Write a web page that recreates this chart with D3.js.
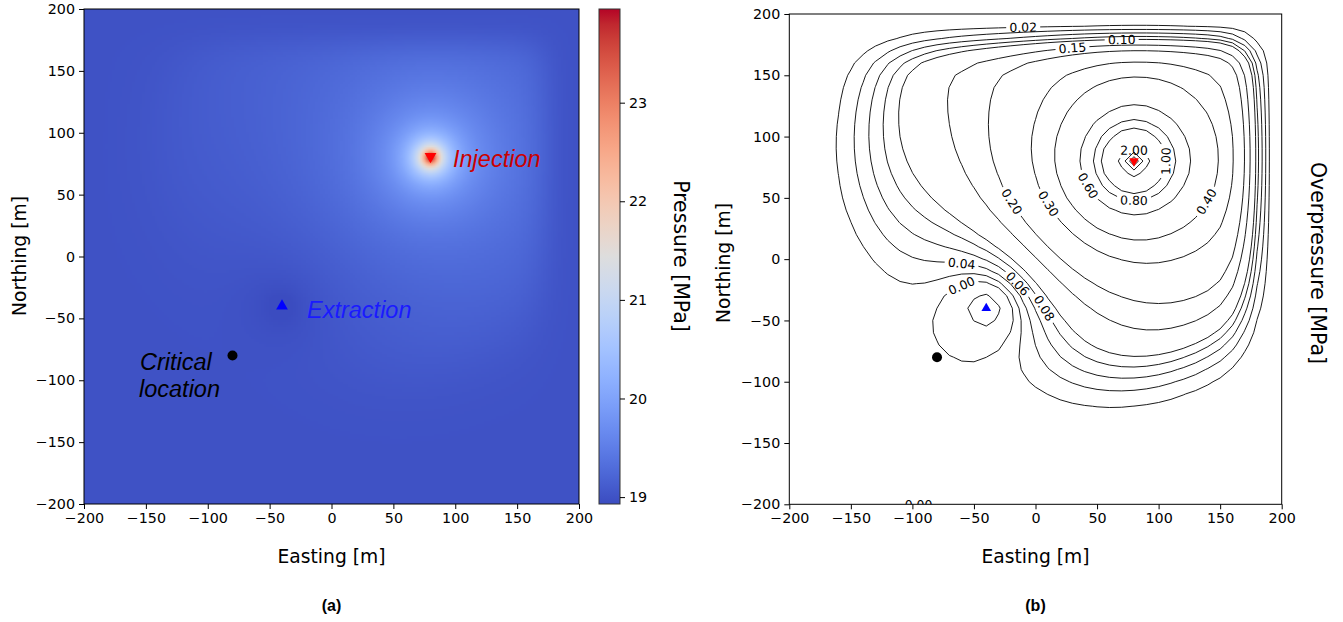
<!DOCTYPE html>
<html>
<head>
<meta charset="utf-8">
<script src="https://cdn.jsdelivr.net/npm/d3@7"></script>
<style>
  body { margin: 0; background: #fff; }
  text { fill: #000; }
</style>
</head>
<body>
<svg id="fig" width="1343" height="622"></svg>
<script>
// ---- data ----
var wellNames = ["Injection", "Extraction", "Critical location"];
var wellX = [80, -40, -80];
var wellY = [80, -40, -80];
var wellPointStrength = [24, 0, 0];        // 1/r part [MPa*m]
var wellLogStrength = [0.05, -0.075, 0];   // log part [MPa]
var wellLogReach = [350, 290, 0];          // radius where the log part vanishes [m]
var wellRadius = 5;                        // [m]
var frontX = 39, frontY = 80;              // centre of the pressure front [m]
var frontRadius = 184, frontWidth = 35;    // [m]
var basePressure = 19.0;                   // [MPa]
var wallDecay = [20, 35, 20, 35];          // fade length at left, right, bottom, top wall [m]
var pressureRange = [18.93, 23.95];
var pressureTicks = [19, 20, 21, 22, 23];
var axisTicks = [-200, -150, -100, -50, 0, 50, 100, 150, 200];
var contourLevels = [-0.05, 0, 0.02, 0.04, 0.06, 0.08, 0.10, 0.15, 0.20, 0.30, 0.40, 0.60, 0.80, 1.00, 2.00, 3.00, 4.00];
var labelLevel = [0.02, 0.10, 0.15, 0.20, 0.30, 0.40, 0.60, 0.80, 1.00, 2.00, 0.04, 0.06, 0.08, 0.00];
var labelX     = [-13, 73, 25, -23, 14, 128, 50, 79, 115, 82, -56, -7, 17, -59];
var labelY     = [196, 180, 175, 43, 48, 52, 65, 48, 74, 97, -3, -17, -31, -31];

// matplotlib coolwarm
var coolwarm = ["#3b4cc0","#445acc","#4d68d7","#5775e1","#6282ea","#6c8ef1","#779af7","#82a5fb",
  "#8db0fe","#98b9ff","#a3c2ff","#aec9fd","#b8d0f9","#c2d5f4","#ccd9ee","#d5dbe6","#dddddd",
  "#e5d8d1","#ecd3c5","#f1ccb9","#f5c4ad","#f7bba0","#f7b194","#f7a687","#f49a7b","#f18d6f",
  "#ec7f63","#e57058","#de604d","#d55042","#cb3e38","#c0282f","#b40426"];

var svg = d3.select("#fig");
var defs = svg.append("defs");
var mainFont = "'DejaVu Sans', sans-serif";
var noteFont = "'Liberation Sans', Arial, sans-serif";

// ---- field model ----
function erfc(x) {
  var z = Math.abs(x), t = 1 / (1 + 0.3275911 * z);
  var y = t * (0.254829592 + t * (-0.284496736 + t * (1.421413741 + t * (-1.453152027 + t * 1.061405429)))) * Math.exp(-z * z);
  return x >= 0 ? y : 2 - y;
}
function taper(x, y) {
  var d = [x + 200, 200 - x, y + 200, 200 - y], t = 1;
  for (var k = 0; k < 4; k++) t *= Math.tanh(Math.pow(Math.max(d[k], 0) / wallDecay[k], 2));
  return t;
}
function overpressure(x, y) {
  var s = 0;
  for (var w = 0; w < wellX.length; w++) {
    var dx = x - wellX[w], dy = y - wellY[w];
    var r = Math.sqrt(dx * dx + dy * dy + wellRadius * wellRadius);
    if (wellPointStrength[w]) s += wellPointStrength[w] / r;
    if (wellLogStrength[w]) s += wellLogStrength[w] * Math.max(0, Math.log(wellLogReach[w] / r));
  }
  var rf = Math.hypot(x - frontX, y - frontY);
  return s * 0.5 * erfc((rf - frontRadius) / frontWidth) * taper(x, y);
}

var color = d3.scaleLinear()
  .domain(coolwarm.map(function (c, i) { return pressureRange[0] + i * (pressureRange[1] - pressureRange[0]) / (coolwarm.length - 1); }))
  .range(coolwarm)
  .interpolate(d3.interpolateRgb)
  .clamp(true);

var fmt = function (d) { return d < 0 ? "\u2212" + (-d) : d; };

function drawAxes(g, x, y, box) {
  g.append("g")
    .attr("transform", "translate(0," + (box.top + box.h) + ")")
    .call(d3.axisBottom(x).tickValues(axisTicks).tickSize(5).tickPadding(4).tickFormat(fmt));
  g.append("g")
    .attr("transform", "translate(" + box.left + ",0)")
    .call(d3.axisLeft(y).tickValues(axisTicks).tickSize(5).tickPadding(4).tickFormat(fmt));
  g.selectAll(".domain").remove();
  g.selectAll(".tick line").attr("stroke", "#000").attr("stroke-width", 1);
  g.selectAll(".tick text").style("font-family", mainFont).style("font-size", "14.3px").attr("fill", "#000");
  g.append("rect")
    .attr("x", box.left).attr("y", box.top).attr("width", box.w).attr("height", box.h)
    .attr("fill", "none").attr("stroke", "#000").attr("stroke-width", 1);
}

function label(x, y, txt, rot, size, family, weight) {
  svg.append("text")
    .attr("transform", "translate(" + x + "," + y + ")" + (rot ? " rotate(" + rot + ")" : ""))
    .attr("text-anchor", "middle").attr("dominant-baseline", "central")
    .style("font-family", family || mainFont).style("font-size", size + "px")
    .style("font-weight", weight || "normal")
    .text(txt);
}

// ================= panel (a) =================
var A = {left: 84, top: 9, size: 495};
var xa = d3.scaleLinear().domain([-200, 200]).range([A.left, A.left + A.size]);
var ya = d3.scaleLinear().domain([-200, 200]).range([A.top + A.size, A.top]);

var N = 200;
var canvas = document.createElement("canvas");
canvas.width = N; canvas.height = N;
var ctx = canvas.getContext("2d");
var img = ctx.createImageData(N, N);
for (var r = 0; r < N; r++) {
  for (var c = 0; c < N; c++) {
    var px = -200 + (c + 0.5) * 400 / N, py = 200 - (r + 0.5) * 400 / N;
    var col = d3.rgb(color(basePressure + overpressure(px, py)));
    var k = 4 * (r * N + c);
    img.data[k] = col.r; img.data[k + 1] = col.g; img.data[k + 2] = col.b; img.data[k + 3] = 255;
  }
}
ctx.putImageData(img, 0, 0);
svg.append("image")
  .attr("x", A.left).attr("y", A.top)
  .attr("width", A.size).attr("height", A.size)
  .attr("preserveAspectRatio", "none")
  .attr("href", canvas.toDataURL());

drawAxes(svg.append("g"), xa, ya, {left: A.left, top: A.top, w: A.size, h: A.size});

var sym = d3.symbol().type(d3.symbolTriangle).size(60);
svg.append("path").attr("d", sym)
  .attr("transform", "translate(" + xa(wellX[0]) + "," + (ya(wellY[0]) - 1) + ") rotate(180)")
  .attr("fill", "#ff0000");
svg.append("path").attr("d", sym)
  .attr("transform", "translate(" + xa(wellX[1]) + "," + ya(wellY[1]) + ")")
  .attr("fill", "#0000ff");
svg.append("circle").attr("cx", xa(wellX[2])).attr("cy", ya(wellY[2])).attr("r", 5).attr("fill", "#000");

function note(x, y, txt, fill) {
  svg.append("text").attr("x", x).attr("y", y).text(txt)
    .style("font-family", noteFont).style("font-style", "italic").style("font-size", "23.5px")
    .style("fill", fill);
}
note(453, 167, wellNames[0], "#cc0000");
note(307, 318, wellNames[1], "#1a1aff");
note(140, 370, "Critical", "#000");
note(139, 397, "location", "#000");

// colorbar
var CB = {left: 599, top: 9, w: 21, h: 495};
var yc = d3.scaleLinear().domain(pressureRange).range([CB.top + CB.h, CB.top]);
var grad = defs.append("linearGradient")
  .attr("id", "cw").attr("x1", 0).attr("y1", 1).attr("x2", 0).attr("y2", 0);
grad.selectAll("stop").data(coolwarm).enter().append("stop")
  .attr("offset", function (d, i) { return i / (coolwarm.length - 1); })
  .attr("stop-color", function (d) { return d; });
svg.append("rect").attr("x", CB.left).attr("y", CB.top).attr("width", CB.w).attr("height", CB.h)
  .attr("fill", "url(#cw)").attr("stroke", "#333").attr("stroke-width", 1);
var cbAxis = svg.append("g").attr("transform", "translate(" + (CB.left + CB.w) + ",0)")
  .call(d3.axisRight(yc).tickValues(pressureTicks).tickSize(5).tickPadding(4).tickFormat(d3.format("d")));
cbAxis.select(".domain").remove();
cbAxis.selectAll(".tick text").style("font-family", mainFont).style("font-size", "14.3px").attr("fill", "#000");

label(331.5, 556, "Easting [m]", 0, 18.7);
label(19, 256, "Northing [m]", -90, 18.7);
label(681, 256, "Pressure [MPa]", 90, 20.5);
label(331.5, 605, "(a)", 0, 16, noteFont, "bold");

// ================= panel (b) =================
var B = {left: 789.3, top: 14, w: 492.4, h: 490.3};
var xb = d3.scaleLinear().domain([-200, 200]).range([B.left, B.left + B.w]);
var yb = d3.scaleLinear().domain([-200, 200]).range([B.top + B.h, B.top]);

defs.append("clipPath").attr("id", "clipB")
  .append("rect").attr("x", B.left).attr("y", B.top).attr("width", B.w).attr("height", B.h);

var step = 10, n = 400 / step + 1;
var grid = new Array(n * n);
for (var j = 0; j < n; j++) {
  for (var i = 0; i < n; i++) {
    grid[j * n + i] = overpressure(-200 + i * step, 200 - j * step);
  }
}
var contours = d3.contours().size([n, n]).thresholds(contourLevels)(grid);

function gx(v) { return xb(-200 + (v - 0.5) * step); }
function gy(v) { return yb(200 - (v - 0.5) * step); }
var path = d3.geoPath(d3.geoTransform({
  point: function (x, y) { this.stream.point(gx(x), gy(y)); }
}));

var cg = svg.append("g").attr("clip-path", "url(#clipB)");
var labelLayer = svg.append("g");

// point on a closed ring found by walking a given arc length from vertex q
function walk(ring, q, dist, dir) {
  var m = ring.length - 1, acc = 0, cur = q;
  for (var s = 0; s < m; s++) {
    var nx = (cur + dir + m) % m;
    acc += Math.hypot(ring[nx][0] - ring[cur][0], ring[nx][1] - ring[cur][1]);
    cur = nx;
    if (acc >= dist) break;
  }
  return ring[cur];
}

contours.forEach(function (ct, ci) {
  var rings = [];
  ct.coordinates.forEach(function (poly) {
    poly.forEach(function (ring) {
      rings.push(ring.map(function (p) { return [gx(p[0]), gy(p[1])]; }));
    });
  });
  var maskId = "mask" + ci;
  var mask = defs.append("mask").attr("id", maskId).attr("maskUnits", "userSpaceOnUse")
    .attr("x", 0).attr("y", 0).attr("width", 1343).attr("height", 622);
  mask.append("rect").attr("x", 0).attr("y", 0).attr("width", 1343).attr("height", 622).attr("fill", "#fff");

  labelLevel.forEach(function (lv, li) {
    if (Math.abs(lv - ct.value) > 1e-9) return;
    var tx = xb(labelX[li]), ty = yb(labelY[li]);
    var best = null, bd = Infinity;
    rings.forEach(function (ring) {
      for (var q = 0; q < ring.length - 1; q++) {
        var p = ring[q];
        if (p[0] < B.left + 2 || p[0] > B.left + B.w - 2 || p[1] < B.top + 2 || p[1] > B.top + B.h - 2) continue;
        var d = (p[0] - tx) * (p[0] - tx) + (p[1] - ty) * (p[1] - ty);
        if (d < bd) { bd = d; best = {ring: ring, q: q}; }
      }
    });
    if (!best || bd > 80 * 80) return;
    var p0 = best.ring[best.q];
    var pa = walk(best.ring, best.q, 12, -1), pb = walk(best.ring, best.q, 12, 1);
    var ang = Math.atan2(pb[1] - pa[1], pb[0] - pa[0]) * 180 / Math.PI;
    if (ang > 90) ang -= 180;
    if (ang <= -90) ang += 180;
    var cx = (pa[0] + pb[0] + 2 * p0[0]) / 4, cy = (pa[1] + pb[1] + 2 * p0[1]) / 4;
    var tr = "translate(" + cx + "," + cy + ") rotate(" + ang + ")";
    mask.append("rect")
      .attr("x", -17).attr("y", -8).attr("width", 34).attr("height", 16)
      .attr("transform", tr).attr("fill", "#000");
    labelLayer.append("text")
      .attr("transform", tr)
      .attr("text-anchor", "middle").attr("dominant-baseline", "central")
      .style("font-family", mainFont).style("font-size", "12.4px")
      .text(ct.value.toFixed(2));
  });

  cg.append("path")
    .attr("d", path({type: "MultiPolygon", coordinates: ct.coordinates}))
    .attr("fill", "none").attr("stroke", "#000").attr("stroke-width", 0.9)
    .attr("mask", "url(#" + maskId + ")");
});

// the 0.00 label that sits on the lower boundary
svg.append("g").attr("clip-path", "url(#clipB)").append("text")
  .attr("x", xb(-95)).attr("y", yb(-200) + 5)
  .attr("text-anchor", "middle")
  .style("font-family", mainFont).style("font-size", "12.4px")
  .text("0.00");

drawAxes(svg.append("g"), xb, yb, {left: B.left, top: B.top, w: B.w, h: B.h});

var symS = d3.symbol().type(d3.symbolTriangle).size(40);
svg.append("path").attr("d", symS)
  .attr("transform", "translate(" + xb(wellX[0]) + "," + yb(wellY[0]) + ") rotate(180)")
  .attr("fill", "#ff0000");
svg.append("path").attr("d", symS)
  .attr("transform", "translate(" + xb(wellX[1]) + "," + yb(wellY[1]) + ")")
  .attr("fill", "#0000ff");
svg.append("circle").attr("cx", xb(wellX[2])).attr("cy", yb(wellY[2])).attr("r", 5).attr("fill", "#000");

label(1035.5, 556, "Easting [m]", 0, 18.7);
label(723, 263, "Northing [m]", -90, 18.7);
label(1318, 263, "Overpressure [MPa]", 90, 20.5);
label(1035.5, 605, "(b)", 0, 16, noteFont, "bold");
</script>
</body>
</html>
